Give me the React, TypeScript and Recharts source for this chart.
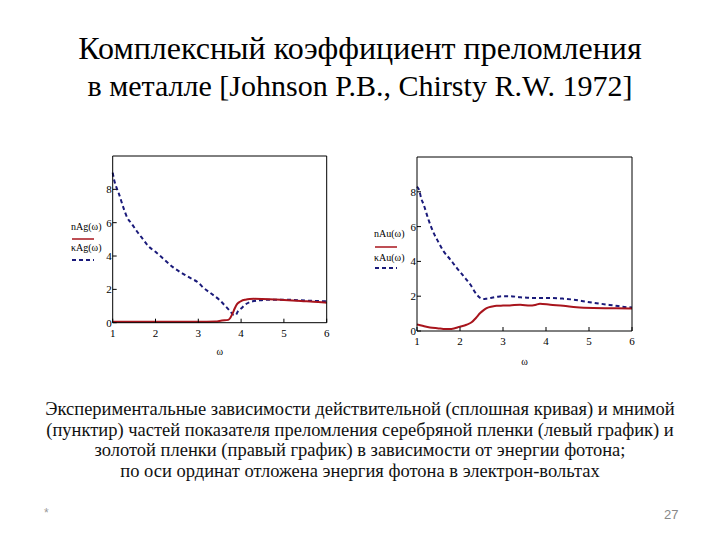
import React from 'react';
import { LineChart, Line, XAxis, YAxis, Legend } from 'recharts';

const SERIF = 'Liberation Serif';

// ---- Data (photon energy, eV) ----
const xTicks = [1, 2, 3, 4, 5, 6];
const yTicks = [0, 2, 4, 6, 8];
const innerYTicks = [2, 4, 6, 8];
const innerXTicks = [2, 3, 4, 5];

// Silver: real part n
const agNE = [1.0, 1.5, 2.0, 2.5, 3.0, 3.4, 3.55, 3.7, 3.75, 3.8, 3.85, 3.9, 3.95, 4.0, 4.1, 4.2, 4.3, 4.5, 4.8, 5.0, 5.4, 5.8, 6.0];
const agN = [0.06, 0.06, 0.06, 0.06, 0.06, 0.07, 0.13, 0.17, 0.3, 0.55, 0.85, 1.1, 1.22, 1.3, 1.38, 1.42, 1.43, 1.42, 1.39, 1.36, 1.3, 1.24, 1.2];
// Silver: imaginary part kappa
const agKE = [1.0, 1.03, 1.09, 1.15, 1.25, 1.34, 1.44, 1.56, 1.68, 1.83, 2.0, 2.2, 2.4, 2.6, 2.8, 3.0, 3.12, 3.3, 3.5, 3.65, 3.74, 3.82, 3.87, 3.93, 4.0, 4.09, 4.25, 4.4, 4.6, 5.0, 5.5, 6.0];
const agK = [9.0, 8.6, 8.1, 7.7, 6.9, 6.3, 5.95, 5.5, 5.1, 4.6, 4.25, 3.8, 3.35, 3.0, 2.7, 2.4, 2.1, 1.75, 1.35, 0.95, 0.7, 0.47, 0.45, 0.7, 0.85, 1.07, 1.27, 1.33, 1.38, 1.38, 1.33, 1.28];

// Gold: real part n
const auNE = [1.0, 1.1, 1.3, 1.5, 1.61, 1.8, 2.0, 2.15, 2.27, 2.37, 2.47, 2.55, 2.62, 2.75, 2.85, 3.0, 3.16, 3.4, 3.63, 3.75, 3.86, 4.1, 4.4, 4.71, 5.1, 5.5, 5.95, 6.0];
const auN = [0.38, 0.32, 0.2, 0.15, 0.12, 0.12, 0.25, 0.36, 0.5, 0.75, 1.03, 1.2, 1.32, 1.41, 1.45, 1.46, 1.47, 1.51, 1.46, 1.5, 1.57, 1.51, 1.45, 1.36, 1.32, 1.31, 1.3, 1.3];
// Gold: imaginary part kappa
const auKE = [1.0, 1.05, 1.1, 1.15, 1.26, 1.38, 1.5, 1.61, 1.77, 1.92, 2.08, 2.24, 2.39, 2.47, 2.55, 2.62, 2.85, 3.0, 3.16, 3.4, 3.7, 4.1, 4.4, 4.64, 4.95, 5.26, 5.57, 5.88, 6.0];
const auK = [8.3, 8.1, 7.6, 7.3, 6.45, 5.68, 5.1, 4.61, 4.12, 3.64, 3.16, 2.67, 2.09, 1.9, 1.84, 1.86, 1.96, 2.0, 2.0, 1.94, 1.9, 1.9, 1.86, 1.8, 1.68, 1.57, 1.47, 1.37, 1.35];

const titleLines = ['Комплексный коэффициент преломления', 'в металле [Johnson P.B., Chirsty R.W. 1972]'];
const titleSizes = [32, 30];
const captionLines = [
  'Экспериментальные зависимости действительной (сплошная кривая) и мнимой',
  '(пунктир) частей показателя преломления серебряной пленки (левый график) и',
  'золотой пленки (правый график) в зависимости от энергии фотона;',
  'по оси ординат отложена энергия фотона в электрон-вольтах',
];

const RED = '#a8141c';
const BLUE = '#1a1a7a';

const zip = (xs: number[], ys: number[]) => xs.map((e, i) => ({ e, v: ys[i] }));

const BottomTick = (p: any) => (
  <g>
    <line x1={p.x} y1={p.y} x2={p.x} y2={p.y - 4} stroke="#000" />
    <text x={p.x} y={p.y + 14} textAnchor="middle" fontSize={11} fontFamily={SERIF} fill="#000">
      {p.payload.value}
    </text>
  </g>
);
const TopTick = (p: any) => (
  <line x1={p.x} y1={p.y} x2={p.x} y2={p.y + 4} stroke="#000" />
);
const LeftTick = (p: any) => (
  <g>
    <line x1={p.x} y1={p.y} x2={p.x + 4} y2={p.y} stroke="#000" />
    <text x={p.x - 1} y={p.y + 4} textAnchor="end" fontSize={11} fontFamily={SERIF} fill="#000">
      {p.payload.value}
    </text>
  </g>
);
const RightTick = (p: any) => (
  <line x1={p.x} y1={p.y} x2={p.x - 4} y2={p.y} stroke="#000" />
);

type Panel = {
  left: number;
  top: number;
  width: number;
  height: number;
  margin: { top: number; right: number; bottom: number; left: number };
  nData: { e: number; v: number }[];
  kData: { e: number; v: number }[];
  nName: string;
  kName: string;
  legendPos: { left: number; top: number };
  legendRows: number[];
  labelOffset: number;
};

const ChartPanel = ({ cfg }: { cfg: Panel }) => {
  const [t1, l1, t2, l2] = cfg.legendRows;
  const legendContent = () => (
    <svg width={44} height={l2 + 4} style={{ display: 'block' }}>
      <text x={0} y={t1} fontSize={10} fontFamily={SERIF} fill="#000">{cfg.nName}</text>
      <line x1={1} y1={l1} x2={23} y2={l1} stroke={RED} strokeWidth={1.5} />
      <text x={0} y={t2} fontSize={10} fontFamily={SERIF} fill="#000">{cfg.kName}</text>
      <line x1={1} y1={l2} x2={23} y2={l2} stroke={BLUE} strokeWidth={2} strokeDasharray="4 3" />
    </svg>
  );
  return (
    <div style={{ position: 'absolute', left: cfg.left, top: cfg.top }}>
      <LineChart width={cfg.width} height={cfg.height} margin={cfg.margin}>
        <XAxis xAxisId="b" dataKey="e" type="number" domain={[1, 6]} ticks={xTicks} interval={0} height={1}
          tickSize={0} tickMargin={0} tickLine={false} axisLine={{ stroke: '#000' }} tick={BottomTick}
          label={{ value: 'ω', position: 'bottom', offset: cfg.labelOffset, fontSize: 10, fontFamily: SERIF, fill: '#000' }} />
        <XAxis xAxisId="t" orientation="top" dataKey="e" type="number" domain={[1, 6]} ticks={innerXTicks} interval={0}
          height={1} tickSize={0} tickMargin={0} tickLine={false} axisLine={{ stroke: '#000' }} tick={TopTick} />
        <YAxis yAxisId="l" type="number" domain={[0, 10]} ticks={yTicks} interval={0} width={1} tickSize={0}
          tickMargin={0} tickLine={false} axisLine={{ stroke: '#000' }} tick={LeftTick} />
        <YAxis yAxisId="r" orientation="right" type="number" domain={[0, 10]} ticks={innerYTicks} interval={0}
          width={1} tickSize={0} tickMargin={0} tickLine={false} axisLine={{ stroke: '#000' }} tick={RightTick} />
        <Line xAxisId="b" yAxisId="l" data={cfg.kData} dataKey="v" name={cfg.kName} type="monotone" stroke={BLUE}
          strokeWidth={2} strokeDasharray="4 3" dot={false} activeDot={false} isAnimationActive={false} />
        <Line xAxisId="b" yAxisId="l" data={cfg.nData} dataKey="v" name={cfg.nName} type="monotone" stroke={RED}
          strokeWidth={2} dot={false} activeDot={false} isAnimationActive={false} />
        <Legend layout="horizontal" verticalAlign="middle" align="center" content={legendContent}
          wrapperStyle={{ position: 'absolute', left: cfg.legendPos.left, top: cfg.legendPos.top, width: 44 }} />
      </LineChart>
    </div>
  );
};

const silver: Panel = {
  left: 40, top: 140, width: 310, height: 240,
  margin: { top: 15, right: 22.3, bottom: 56.3, left: 71.7 },
  nData: zip(agNE, agN), kData: zip(agKE, agK),
  nName: 'nAg(ω)', kName: 'κAg(ω)',
  legendPos: { left: 31, top: 78 }, legendRows: [12, 21, 33, 42], labelOffset: 24,
};

const gold: Panel = {
  left: 345, top: 140, width: 320, height: 240,
  margin: { top: 16, right: 32, bottom: 48, left: 71 },
  nData: zip(auNE, auN), kData: zip(auKE, auK),
  nName: 'nAu(ω)', kName: 'κAu(ω)',
  legendPos: { left: 29, top: 82 }, legendRows: [15, 25, 39, 46], labelOffset: 26,
};

export default function App() {
  return (
    <div style={{ position: 'absolute', left: 0, top: 0, width: 720, height: 540, background: '#fff', overflow: 'hidden' }}>
      <div style={{ position: 'absolute', left: 0, top: 30, width: 720, textAlign: 'center', fontFamily: SERIF, lineHeight: '37.4px', color: '#000' }}>
        {titleLines.map((t, i) => (<div key={i} style={{ fontSize: titleSizes[i] }}>{t}</div>))}
      </div>
      <ChartPanel cfg={silver} />
      <ChartPanel cfg={gold} />
      <div style={{ position: 'absolute', left: 0, top: 399, width: 720, textAlign: 'center', fontFamily: SERIF, fontSize: 18.5, lineHeight: '20.7px', color: '#111' }}>
        {captionLines.map((t, i) => (<div key={i}>{t}</div>))}
      </div>
      <div style={{ position: 'absolute', left: 44, top: 506, fontFamily: 'Liberation Sans', fontSize: 12, color: '#999' }}>*</div>
      <div style={{ position: 'absolute', left: 664, top: 507, fontFamily: 'Liberation Sans', fontSize: 13, color: '#888' }}>27</div>
    </div>
  );
}
